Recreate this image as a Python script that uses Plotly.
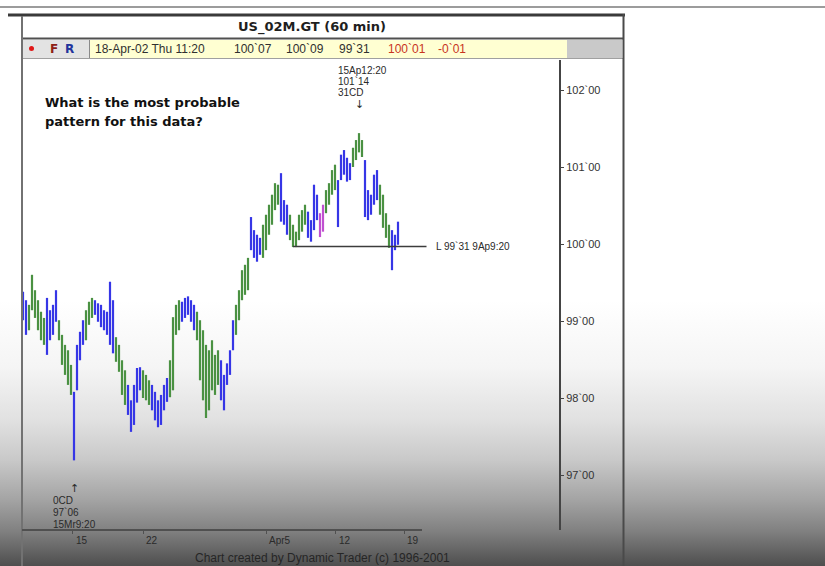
import base64
import plotly.graph_objects as go

# ---------------- data ----------------
bar_high = [99.38, 99.27, 99.21, 99.60, 99.40, 99.27, 99.12, 99.04, 99.30, 99.14,
            99.21, 99.40, 99.01, 98.82, 98.69, 98.62, 98.43, 98.08, 98.69, 98.86,
            99.01, 99.14, 99.25, 99.30, 99.27, 99.23, 99.21, 99.14, 99.12, 99.51,
            99.27, 98.79, 98.69, 98.49, 98.36, 98.17, 97.97, 98.17, 98.39, 98.40,
            98.36, 98.30, 98.23, 98.17, 98.08, 97.97, 98.04, 98.17, 98.26, 98.49,
            99.05, 99.21, 99.27, 99.25, 99.30, 99.32, 99.27, 99.21, 99.12, 99.01,
            98.88, 98.69, 98.62, 98.75, 98.56, 98.62, 98.49, 98.30, 98.45, 98.62,
            99.01, 99.21, 99.40, 99.66, 99.73, 99.82, 100.35, 100.18, 100.12, 100.08,
            100.25, 100.38, 100.51, 100.64, 100.79, 100.77, 100.92, 100.57, 100.51, 100.38,
            100.25, 100.16, 100.38, 100.44, 100.51, 100.42, 100.31, 100.77, 100.64, 100.40,
            100.51, 100.70, 100.79, 100.96, 101.03, 100.83, 101.16, 101.22, 101.12, 101.05,
            101.25, 101.35, 101.44, 101.35, 101.09, 100.70, 100.64, 100.90, 100.96, 100.77,
            100.64, 100.40, 100.25, 100.18, 100.12, 100.29]

bar_low = [99.01, 98.82, 98.88, 99.14, 99.04, 98.88, 98.75, 98.69, 98.56, 98.75,
           98.82, 98.99, 98.75, 98.43, 98.30, 98.17, 98.04, 97.19, 98.10, 98.49,
           98.69, 98.75, 98.95, 99.04, 99.08, 98.99, 98.92, 98.88, 98.82, 98.69,
           98.58, 98.47, 98.34, 98.04, 97.91, 97.78, 97.56, 97.65, 97.94, 98.10,
           98.00, 97.97, 97.91, 97.84, 97.71, 97.62, 97.65, 97.84, 97.95, 98.01,
           98.10, 98.82, 98.88, 98.99, 99.04, 99.08, 98.99, 98.88, 98.75, 98.23,
           97.97, 97.74, 97.84, 98.10, 98.04, 98.17, 97.97, 97.84, 98.17, 98.30,
           98.62, 98.82, 99.01, 99.27, 99.34, 99.40, 99.92, 99.82, 99.77, 99.86,
           99.82, 99.92, 100.12, 100.25, 100.44, 100.51, 100.29, 100.25, 100.12, 100.05,
           99.96, 99.96, 100.05, 100.16, 100.25, 100.08, 100.03, 100.18, 100.31, 100.09,
           100.16, 100.40, 100.51, 100.64, 100.70, 100.22, 100.83, 100.90, 100.81, 100.83,
           101.00, 101.09, 101.19, 101.13, 100.35, 100.31, 100.38, 100.51, 100.57, 100.38,
           100.21, 100.08, 99.95, 99.66, 99.92, 99.99]

bar_group = list("bb" "gggggg" "bbbb" "ggggg" "bbbb" "ggg" "bbbbbbb" "gggg"
                 "bbbbb" "ggg" "bbbbbb" "gggg" "bbbbb" "gggggggg" "bbbbb"
                 "ggggg" "bbbb" "gggggg" "bbb" "gggggg" "bbbb" "mm" "gggg"
                 "bbbbb" "gggg" "bbbbb" "gggg" "bbb")

tick_labels = ["15", "22", "Apr5", "12", "19"]
tick_pos = [16.6, 40.0, 81.0, 104.3, 127.0]        # bar-index units

price_ticks = [97, 98, 99, 100, 101, 102]
price_tick_labels = ["97`00", "98`00", "99`00", "100`00", "101`00", "102`00"]

support_price = 99.96875      # 99`31
support_label = "L 99`31 9Ap9:20"
high_label = ["15Ap12:20", "101`14", "31CD"]
low_label = ["0CD", "97`06", "15Mr9:20"]

info_black = [("18-Apr-02 Thu 11:20", 93), ("100`07", 232), ("100`09", 284), ("99`31", 337)]
info_red = [("100`01", 386), ("-0`01", 436)]

# ---------------- geometry helpers (pixels -> paper) ----------------
W, H = 825, 566
L, R, T, B = 22, 559, 60, 530


def px(x):
    return (x - L) / (R - L)


def py(y):
    return (B - y) / (B - T)


n = len(bar_high)
idx = list(range(n))
colors = {"b": "#3636e6", "g": "#4a9142", "m": "#c050d0"}

fig = go.Figure()
for key, col in colors.items():
    xs, ys = [], []
    for i in idx:
        if bar_group[i] == key:
            xs += [i, i, None]
            ys += [bar_low[i], bar_high[i], None]
    fig.add_trace(go.Scatter(x=xs, y=ys, mode="lines",
                             line=dict(color=col, width=2.2),
                             hoverinfo="skip", showlegend=False))

i_low = min(idx, key=lambda i: bar_low[i])
i_high = max(idx, key=lambda i: bar_high[i])
i_sup = min(range(85, 100), key=lambda i: bar_low[i])

shapes = []
def pline(x0, y0, x1, y1, color, width):
    shapes.append(dict(type="line", xref="paper", yref="paper",
                       x0=px(x0), y0=py(y0), x1=px(x1), y1=py(y1),
                       line=dict(color=color, width=width)))

def prect(x0, y0, x1, y1, fill):
    shapes.append(dict(type="rect", xref="paper", yref="paper",
                       x0=px(x0), y0=py(y0), x1=px(x1), y1=py(y1),
                       fillcolor=fill, line=dict(width=0)))

# window chrome
pline(0, 7, 825, 7, "#9c9c9c", 2)
prect(23, 40, 89, 58, "#e3e3e3")
prect(90, 40, 567, 58, "#ffffd2")
prect(567, 40, 622, 58, "#c9c9c9")
pline(89.5, 40, 89.5, 58, "#8a8a8a", 1)
pline(22, 58.5, 623, 58.5, "#a0a0a0", 1)
pline(8, 15, 625, 15, "#3a3a3a", 3)
pline(22, 38.5, 623, 38.5, "#505050", 2)
pline(22, 16, 22, 566, "#727272", 2)
pline(623.5, 14, 623.5, 566, "#4a4a4a", 2)
shapes.append(dict(type="circle", xref="paper", yref="paper",
                   x0=px(29), y0=py(51), x1=px(34), y1=py(46),
                   fillcolor="#e01818", line=dict(width=0)))
# x axis baseline (partial)
shapes.append(dict(type="line", xref="x", yref="paper", x0=-1 / 3, x1=133,
                   y0=0, y1=0, line=dict(color="#505050", width=2)))
# support line
shapes.append(dict(type="line", xref="x", yref="y", x0=i_sup, x1=134.5,
                   y0=support_price, y1=support_price,
                   line=dict(color="#3c3c3c", width=1.5)))

ann = []
def ptext(x, y, text, size=10, color="#2a2a2a", family="Liberation Sans",
          anchor="left", bold=False):
    if bold:
        text = "<b>" + text + "</b>"
    ann.append(dict(xref="paper", yref="paper", x=px(x), y=py(y), text=text,
                    showarrow=False, xanchor=anchor, yanchor="middle",
                    font=dict(size=size, color=color, family=family)))

ptext(312, 27, "US_02M.GT (60 min)", size=13, family="DejaVu Sans",
      anchor="center", bold=True, color="#1e1e1e")
ptext(48, 49, "F", size=12, family="DejaVu Sans", bold=True, color="#8e2014")
ptext(63, 49, "R", size=12, family="DejaVu Sans", bold=True, color="#22339c")
for t, x in info_black:
    ptext(x, 49, t, size=12, color="#303030")
for t, x in info_red:
    ptext(x, 49, t, size=12, color="#c8341e")

ptext(43, 103, "What is the most probable", size=13, family="DejaVu Sans",
      bold=True, color="#111111")
ptext(43, 122, "pattern for this data?", size=13, family="DejaVu Sans",
      bold=True, color="#111111")

for k, t in enumerate(high_label):
    ptext(336, 70 + 11 * k, t, size=10, color="#2a2a2a")
ann.append(dict(xref="x", yref="paper", x=i_high, y=py(104), text="↓",
                showarrow=False, xanchor="center", yanchor="middle",
                font=dict(size=11, color="#2a2a2a", family="DejaVu Sans")))

ann.append(dict(xref="x", yref="paper", x=i_low, y=py(488), text="↑",
                showarrow=False, xanchor="center", yanchor="middle",
                font=dict(size=11, color="#2a2a2a", family="DejaVu Sans")))
for k, t in enumerate(low_label):
    ptext(51, 500 + 12 * k, t, size=10, color="#2a2a2a")

ann.append(dict(xref="paper", yref="y", x=px(434), y=support_price,
                text=support_label, showarrow=False, xanchor="left",
                yanchor="middle",
                font=dict(size=10, color="#2a2a2a", family="Liberation Sans")))

for t, x in zip(tick_labels, tick_pos):
    ann.append(dict(xref="x", yref="paper", x=x, y=py(540), text=t,
                    showarrow=False, xanchor="left", yanchor="middle", xshift=1,
                    font=dict(size=10, color="#2a2a2a", family="Liberation Sans")))

ptext(322, 558, "Chart created by Dynamic Trader (c) 1996-2001", size=12,
      anchor="center", color="#262626")

# bottom fade (background gradient)
svg = ('<svg xmlns="http://www.w3.org/2000/svg" width="825" height="266" '
       'viewBox="0 0 825 266" preserveAspectRatio="none">'
       '<defs><linearGradient id="g" x1="0" y1="0" x2="0" y2="1">'
       '<stop offset="0" stop-color="#ffffff"/>'
       '<stop offset="0.25" stop-color="#f5f5f5"/>'
       '<stop offset="0.45" stop-color="#e1e1e1"/>'
       '<stop offset="0.6" stop-color="#c9c9c9"/>'
       '<stop offset="0.75" stop-color="#a4a4a4"/>'
       '<stop offset="0.87" stop-color="#808080"/>'
       '<stop offset="1" stop-color="#4e4e4e"/>'
       '</linearGradient></defs>'
       '<rect width="825" height="266" fill="url(#g)"/></svg>')
src = "data:image/svg+xml;base64," + base64.b64encode(svg.encode()).decode()

fig.update_layout(
    width=W, height=H,
    margin=dict(l=L, r=W - R, t=T, b=H - B),
    paper_bgcolor="#ffffff", plot_bgcolor="rgba(0,0,0,0)",
    showlegend=False, hovermode=False,
    shapes=shapes, annotations=ann,
    images=[dict(source=src, xref="paper", yref="paper", x=px(0), y=py(300),
                 sizex=W / (R - L), sizey=(H - 300) / (B - T),
                 xanchor="left", yanchor="top", sizing="stretch",
                 layer="below")],
    xaxis=dict(range=[-1 / 3, (R - L) / 3 - 1 / 3], showgrid=False,
               zeroline=False, showline=False, tickmode="array",
               tickvals=tick_pos, ticktext=tick_labels, showticklabels=False,
               ticks="outside", ticklen=3, tickwidth=1, tickcolor="#505050",
               fixedrange=True),
    yaxis=dict(range=[100 - (B - 244) / 77, 100 + (244 - T) / 77], side="right",
               showgrid=False, zeroline=False, showline=True,
               linecolor="#444444", linewidth=2, mirror=False,
               tickmode="array", tickvals=price_ticks, ticktext=price_tick_labels,
               ticks="outside", ticklen=3, tickcolor="#444444",
               tickfont=dict(size=11, color="#333333", family="Liberation Sans"),
               fixedrange=True),
)

fig.write_html("out.html", config={"displayModeBar": False},
               post_script="document.body.style.margin='0';"
                           "document.body.style.overflow='hidden';")
